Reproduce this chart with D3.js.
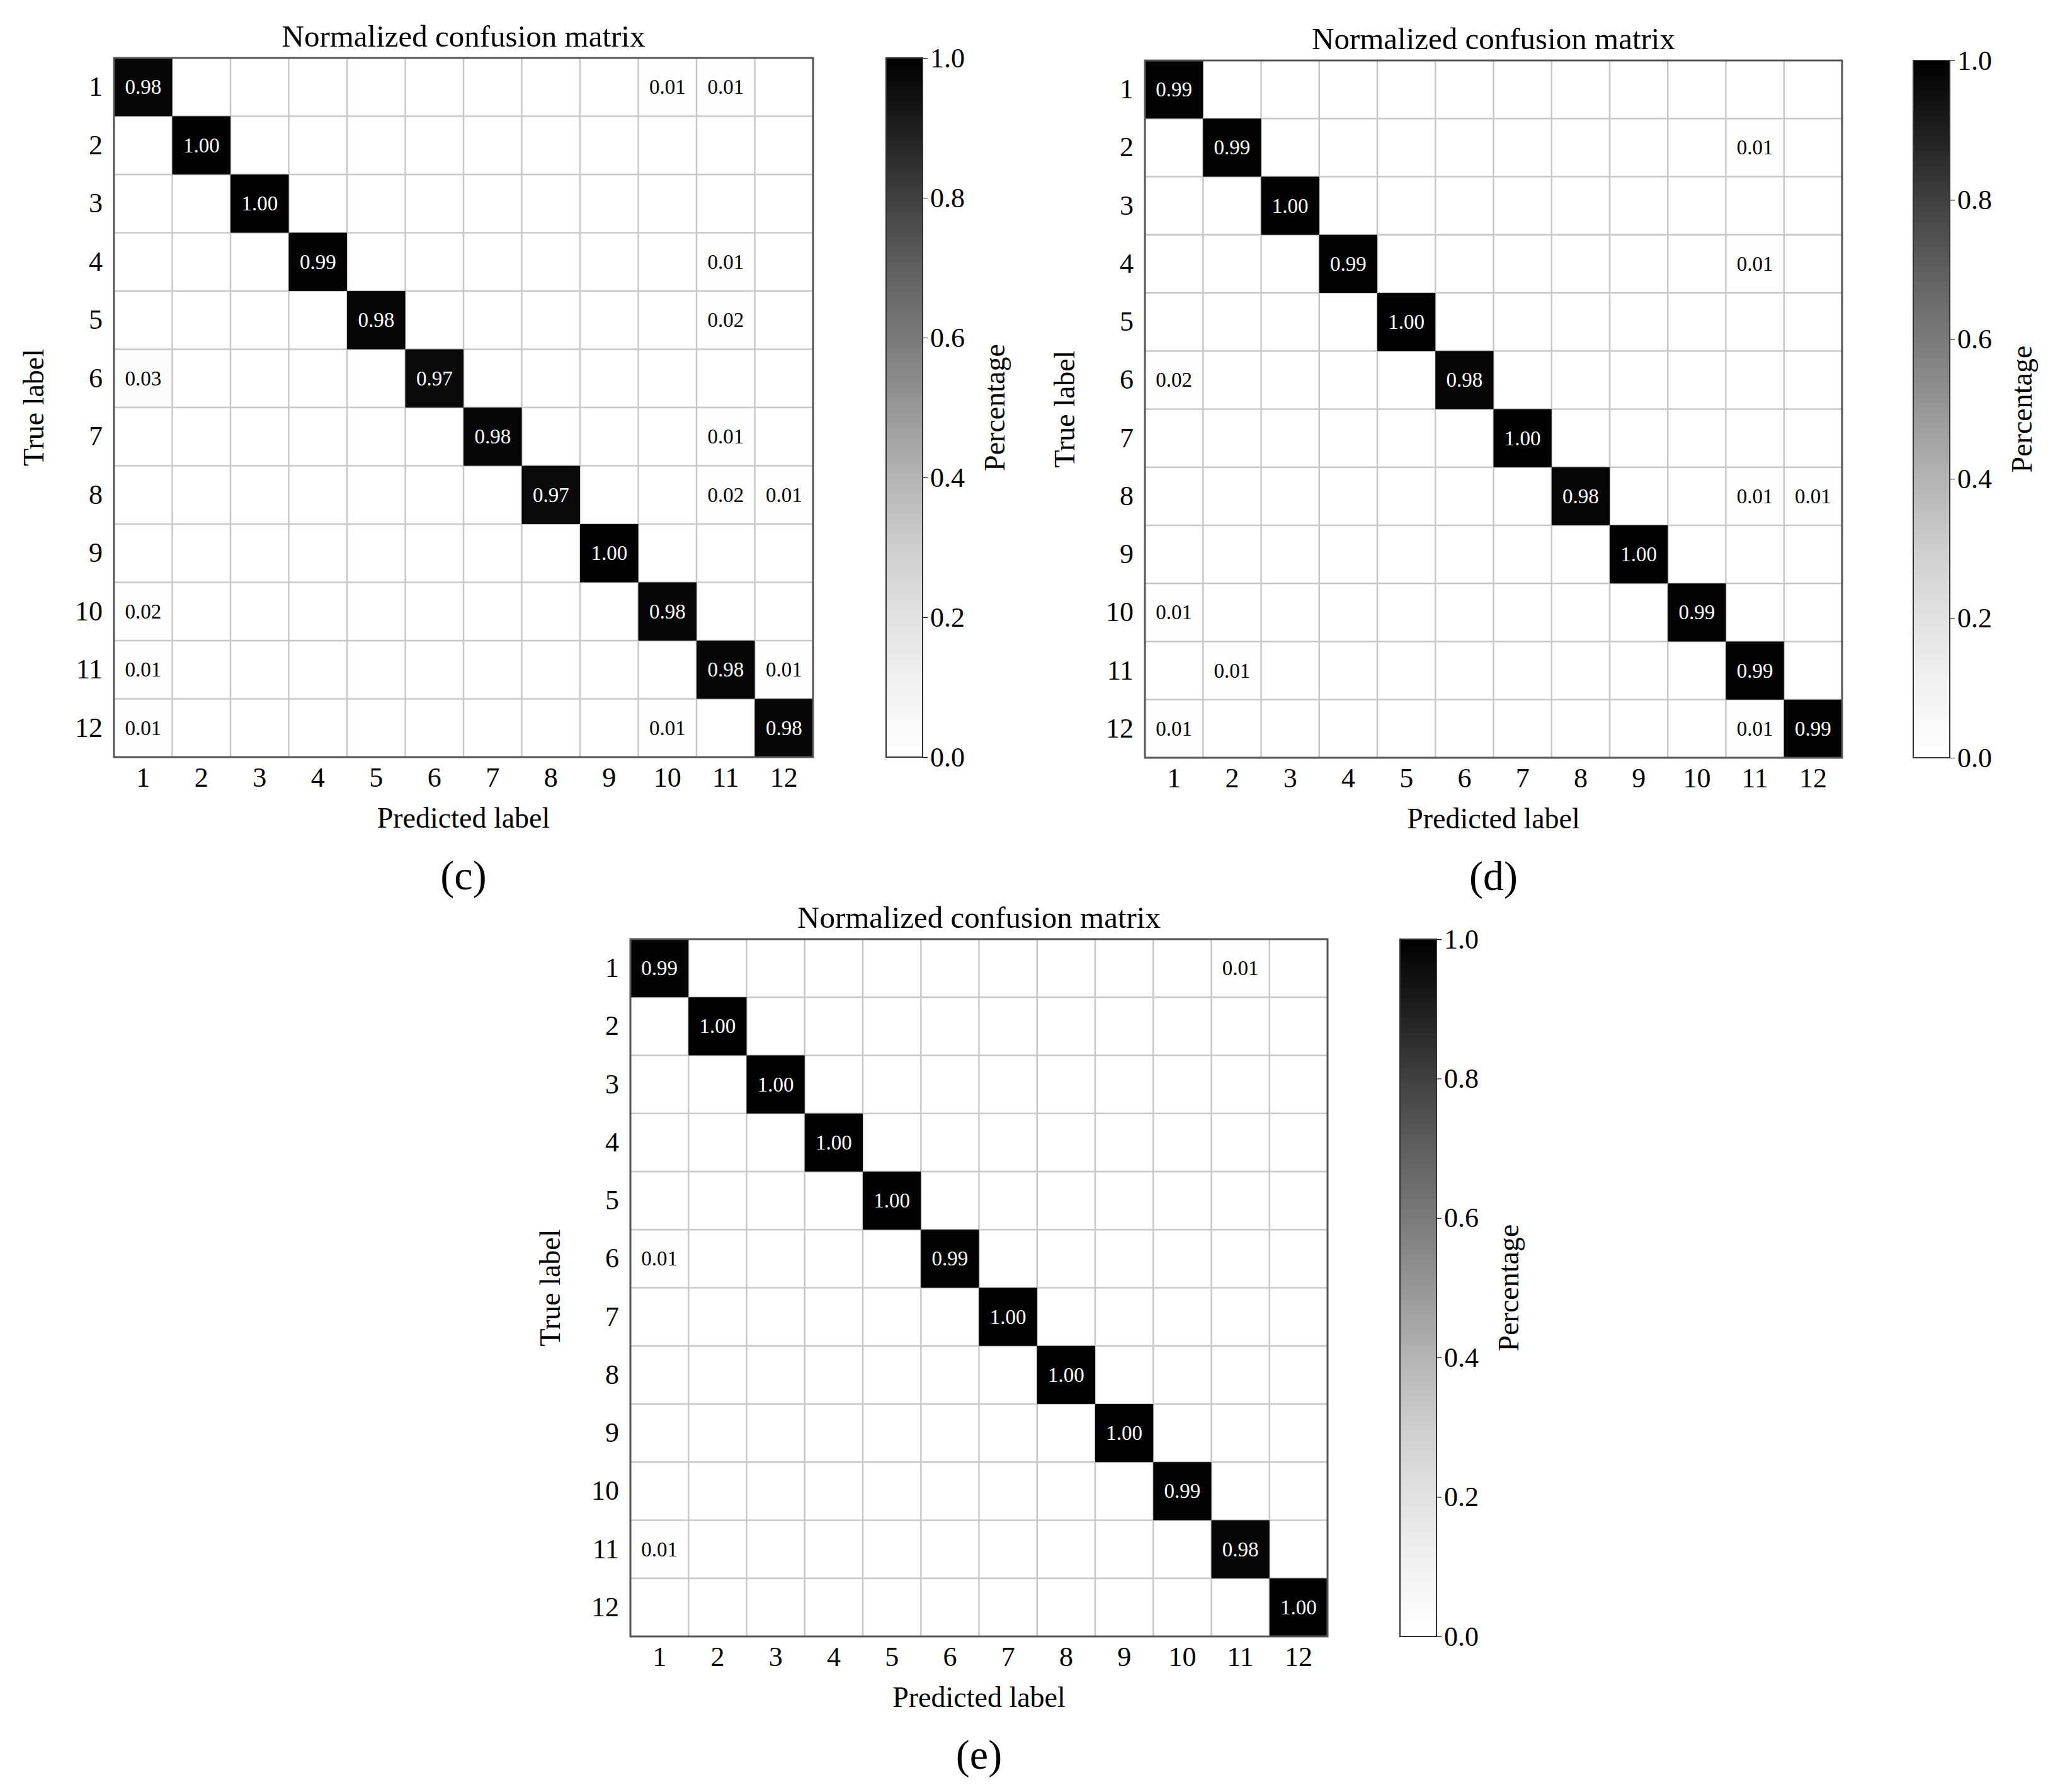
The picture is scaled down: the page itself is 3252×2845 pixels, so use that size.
<!DOCTYPE html>
<html>
<head>
<meta charset="utf-8">
<script src="https://cdn.jsdelivr.net/npm/d3@7"></script>
<style>
  body { margin: 0; background: #fff; }
  text { font-family: "Liberation Serif", "DejaVu Serif", serif; }
</style>
</head>
<body>
<svg id="chart" width="3252" height="2845"></svg>
<script>
const labels = ['1','2','3','4','5','6','7','8','9','10','11','12'];
const cbTicks = [0, 0.2, 0.4, 0.6, 0.8, 1.0];

// sparse entries [row, col, value]
const matrixC = [
  [1,1,0.98],[1,10,0.01],[1,11,0.01],
  [2,2,1.00],
  [3,3,1.00],
  [4,4,0.99],[4,11,0.01],
  [5,5,0.98],[5,11,0.02],
  [6,1,0.03],[6,6,0.97],
  [7,7,0.98],[7,11,0.01],
  [8,8,0.97],[8,11,0.02],[8,12,0.01],
  [9,9,1.00],
  [10,1,0.02],[10,10,0.98],
  [11,1,0.01],[11,11,0.98],[11,12,0.01],
  [12,1,0.01],[12,10,0.01],[12,12,0.98]
];
const matrixD = [
  [1,1,0.99],
  [2,2,0.99],[2,11,0.01],
  [3,3,1.00],
  [4,4,0.99],[4,11,0.01],
  [5,5,1.00],
  [6,1,0.02],[6,6,0.98],
  [7,7,1.00],
  [8,8,0.98],[8,11,0.01],[8,12,0.01],
  [9,9,1.00],
  [10,1,0.01],[10,10,0.99],
  [11,2,0.01],[11,11,0.99],
  [12,1,0.01],[12,11,0.01],[12,12,0.99]
];
const matrixE = [
  [1,1,0.99],[1,10,0.004],[1,11,0.01],
  [2,2,1.00],
  [3,3,1.00],
  [4,4,1.00],
  [5,5,1.00],
  [6,1,0.01],[6,6,0.99],
  [7,7,1.00],
  [8,8,1.00],
  [9,9,1.00],
  [10,1,0.004],[10,10,0.99],
  [11,1,0.01],[11,11,0.98],
  [12,12,1.00]
];

const svg = d3.select('#chart');
const color = d3.scaleSequential(d3.interpolateGreys).domain([0, 1]);

function drawPanel(entries, px, py, size, cbx, tag) {
  const g = svg.append('g').attr('transform', `translate(${px},${py})`);
  const x = d3.scaleBand().domain(labels).range([0, size]);
  const y = d3.scaleBand().domain(labels).range([0, size]);

  const full = [];
  labels.forEach((r, i) => labels.forEach((c, j) => {
    const e = entries.find(d => d[0] === i + 1 && d[1] === j + 1);
    full.push({r, c, v: e ? e[2] : 0});
  }));

  g.selectAll('rect.cell').data(full).join('rect')
    .attr('x', d => x(d.c)).attr('y', d => y(d.r))
    .attr('width', x.bandwidth()).attr('height', y.bandwidth())
    .attr('fill', d => color(d.v));

  // grid lines
  labels.slice(1).forEach(l => {
    g.append('line').attr('x1', x(l)).attr('x2', x(l)).attr('y1', 0).attr('y2', size)
      .attr('stroke', '#c8c8c8').attr('stroke-width', 2.5);
    g.append('line').attr('y1', y(l)).attr('y2', y(l)).attr('x1', 0).attr('x2', size)
      .attr('stroke', '#c8c8c8').attr('stroke-width', 2.5);
  });
  // redraw dark cells on top of grid
  g.selectAll('rect.dark').data(full.filter(d => d.v > 0.5)).join('rect')
    .attr('x', d => x(d.c)).attr('y', d => y(d.r))
    .attr('width', x.bandwidth()).attr('height', y.bandwidth())
    .attr('fill', d => color(d.v));

  g.append('rect').attr('width', size).attr('height', size)
    .attr('fill', 'none').attr('stroke', '#555').attr('stroke-width', 3);

  g.selectAll('text.val').data(full.filter(d => d.v >= 0.005)).join('text')
    .attr('x', d => x(d.c) + x.bandwidth() / 2)
    .attr('y', d => y(d.r) + y.bandwidth() / 2)
    .attr('text-anchor', 'middle').attr('dominant-baseline', 'central')
    .attr('font-size', 33)
    .attr('fill', d => d.v > 0.5 ? '#fff' : '#000')
    .text(d => d.v.toFixed(2));

  const xAxis = g.append('g').attr('transform', `translate(0,${size})`)
    .call(d3.axisBottom(x).tickSize(0).tickPadding(16));
  const yAxis = g.append('g').call(d3.axisLeft(y).tickSize(0).tickPadding(18));
  [xAxis, yAxis].forEach(a => {
    a.select('.domain').remove();
    a.selectAll('text').attr('font-size', 44).attr('font-family', '"Liberation Serif", serif');
  });

  g.append('text').attr('x', size / 2).attr('y', -18).attr('text-anchor', 'middle')
    .attr('font-size', 49).text('Normalized confusion matrix');
  g.append('text').attr('x', size / 2).attr('y', size + 112).attr('text-anchor', 'middle')
    .attr('font-size', 46).text('Predicted label');
  g.append('text').attr('transform', `translate(-112,${size / 2}) rotate(-90)`)
    .attr('text-anchor', 'middle').attr('font-size', 46).text('True label');
  g.append('text').attr('x', size / 2).attr('y', size + 210).attr('text-anchor', 'middle')
    .attr('font-size', 66).text(`(${tag})`);

  // colorbar
  const cbw = 58;
  const cbg = svg.append('g').attr('transform', `translate(${cbx},${py})`);
  const gradId = 'grad' + tag;
  const grad = svg.append('defs').append('linearGradient').attr('id', gradId)
    .attr('x1', 0).attr('y1', 1).attr('x2', 0).attr('y2', 0);
  d3.range(0, 1.01, 0.1).forEach(t => grad.append('stop')
    .attr('offset', t).attr('stop-color', color(t)));
  cbg.append('rect').attr('width', cbw).attr('height', size)
    .attr('fill', `url(#${gradId})`).attr('stroke', '#333').attr('stroke-width', 2);
  const cs = d3.scaleLinear().domain([0, 1]).range([size, 0]);
  const cAxis = cbg.append('g').attr('transform', `translate(${cbw},0)`)
    .call(d3.axisRight(cs).tickValues(cbTicks).tickFormat(d3.format('.1f')).tickSize(8).tickPadding(4));
  cAxis.select('.domain').remove();
  cAxis.selectAll('text').attr('font-size', 44).attr('font-family', '"Liberation Serif", serif');
  cbg.append('text').attr('transform', `translate(${cbw + 130},${size / 2}) rotate(-90)`)
    .attr('text-anchor', 'middle').attr('font-size', 46).text('Percentage');
}

drawPanel(matrixC, 181, 92, 1110, 1407, 'c');
drawPanel(matrixD, 1818, 96, 1107, 3038, 'd');
drawPanel(matrixE, 1001, 1491, 1107, 2223, 'e');
</script>
</body>
</html>
